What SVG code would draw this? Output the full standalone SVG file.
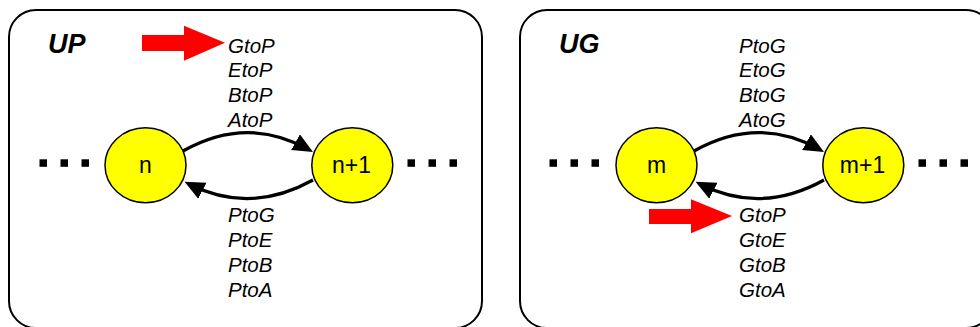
<svg xmlns="http://www.w3.org/2000/svg" width="980" height="327" viewBox="0 0 980 327">
<defs>
<style>
.panel{fill:#fff;stroke:#000;stroke-width:2}
.node{fill:#ffff00;stroke:#000;stroke-width:1.5}
.nlabel{font-family:"Liberation Sans",Arial,sans-serif;font-size:23px;text-anchor:middle;fill:#000}
.title{font-family:"Liberation Sans",Arial,sans-serif;font-size:27px;font-weight:bold;font-style:italic;fill:#000}
.lbl{font-family:"Liberation Sans",Arial,sans-serif;font-size:20.5px;font-style:italic;fill:#000}
.edge{fill:none;stroke:#000;stroke-width:3.2;marker-end:url(#ah)}
.dot{fill:#000}
.red{fill:#ff0000}
</style>
<marker id="ah" markerUnits="userSpaceOnUse" markerWidth="22" markerHeight="20" refX="15" refY="9" orient="auto">
<path d="M0,0 L20,9 L0,18 z" fill="#000"/>
</marker>
</defs>
<g id="panel-UP">
<rect class="panel" x="9" y="10" width="473" height="318" rx="27" ry="27"/>
<text class="title" x="48" y="52.5">UP</text>
<g id="dots-left-UP"><rect class="dot" x="39.5" y="159.3" width="7.5" height="7.5"/><rect class="dot" x="60.5" y="159.3" width="7.5" height="7.5"/><rect class="dot" x="81.5" y="159.3" width="7.5" height="7.5"/></g>
<g id="dots-right-UP"><rect class="dot" x="407.5" y="159.3" width="7.5" height="7.5"/><rect class="dot" x="428.5" y="159.3" width="7.5" height="7.5"/><rect class="dot" x="449.5" y="159.3" width="7.5" height="7.5"/></g>
<g id="connectors-UP">
<path class="edge" d="M183,151 Q247,115 308.6,149.5"/>
<path class="edge" d="M313,180 Q250,215 189,184"/>
</g>
<g id="node-n"><ellipse class="node" cx="145.5" cy="165.3" rx="40.5" ry="37.5"/><text class="nlabel" x="145.5" y="173">n</text></g>
<g id="node-n1"><ellipse class="node" cx="352.3" cy="165.3" rx="40.5" ry="37.5"/><text class="nlabel" x="351.5" y="173">n+1</text></g>
<g id="labels-UP">
<text class="lbl" x="228" y="52.5">GtoP</text>
<text class="lbl" x="228" y="77">EtoP</text>
<text class="lbl" x="228" y="102">BtoP</text>
<text class="lbl" x="228" y="127">AtoP</text>
<text class="lbl" x="228" y="222">PtoG</text>
<text class="lbl" x="228" y="247">PtoE</text>
<text class="lbl" x="228" y="271.5">PtoB</text>
<text class="lbl" x="228" y="296.5">PtoA</text>
</g>
<polygon id="red-arrow-UP" class="red" points="142,35 184,35 184,25.7 225,42.7 184,60.7 184,51 142,51"/>
</g>
<g id="panel-UG">
<rect class="panel" x="520" y="10" width="473" height="318" rx="27" ry="27"/>
<text class="title" x="559" y="52.5">UG</text>
<g id="dots-left-UG"><rect class="dot" x="549.5" y="159.3" width="7.5" height="7.5"/><rect class="dot" x="570.5" y="159.3" width="7.5" height="7.5"/><rect class="dot" x="591.5" y="159.3" width="7.5" height="7.5"/></g>
<g id="dots-right-UG"><rect class="dot" x="918.5" y="159.3" width="7.5" height="7.5"/><rect class="dot" x="939.5" y="159.3" width="7.5" height="7.5"/><rect class="dot" x="960.5" y="159.3" width="7.5" height="7.5"/></g>
<g id="connectors-UG">
<path class="edge" d="M694,151 Q758,115 819.6,149.5"/>
<path class="edge" d="M824,180 Q761,215 700,184"/>
</g>
<g id="node-m"><ellipse class="node" cx="656.5" cy="165.3" rx="40.5" ry="37.5"/><text class="nlabel" x="656.5" y="173">m</text></g>
<g id="node-m1"><ellipse class="node" cx="863.3" cy="165.3" rx="40.5" ry="37.5"/><text class="nlabel" x="862.5" y="173">m+1</text></g>
<g id="labels-UG">
<text class="lbl" x="739" y="52.5">PtoG</text>
<text class="lbl" x="739" y="77">EtoG</text>
<text class="lbl" x="739" y="102">BtoG</text>
<text class="lbl" x="739" y="127">AtoG</text>
<text class="lbl" x="739" y="222">GtoP</text>
<text class="lbl" x="739" y="247">GtoE</text>
<text class="lbl" x="739" y="271.5">GtoB</text>
<text class="lbl" x="739" y="296.5">GtoA</text>
</g>
<polygon id="red-arrow-UG" class="red" points="649,209 691,209 691,199.3 732,216 691,233.3 691,224 649,224"/>
</g>
</svg>
